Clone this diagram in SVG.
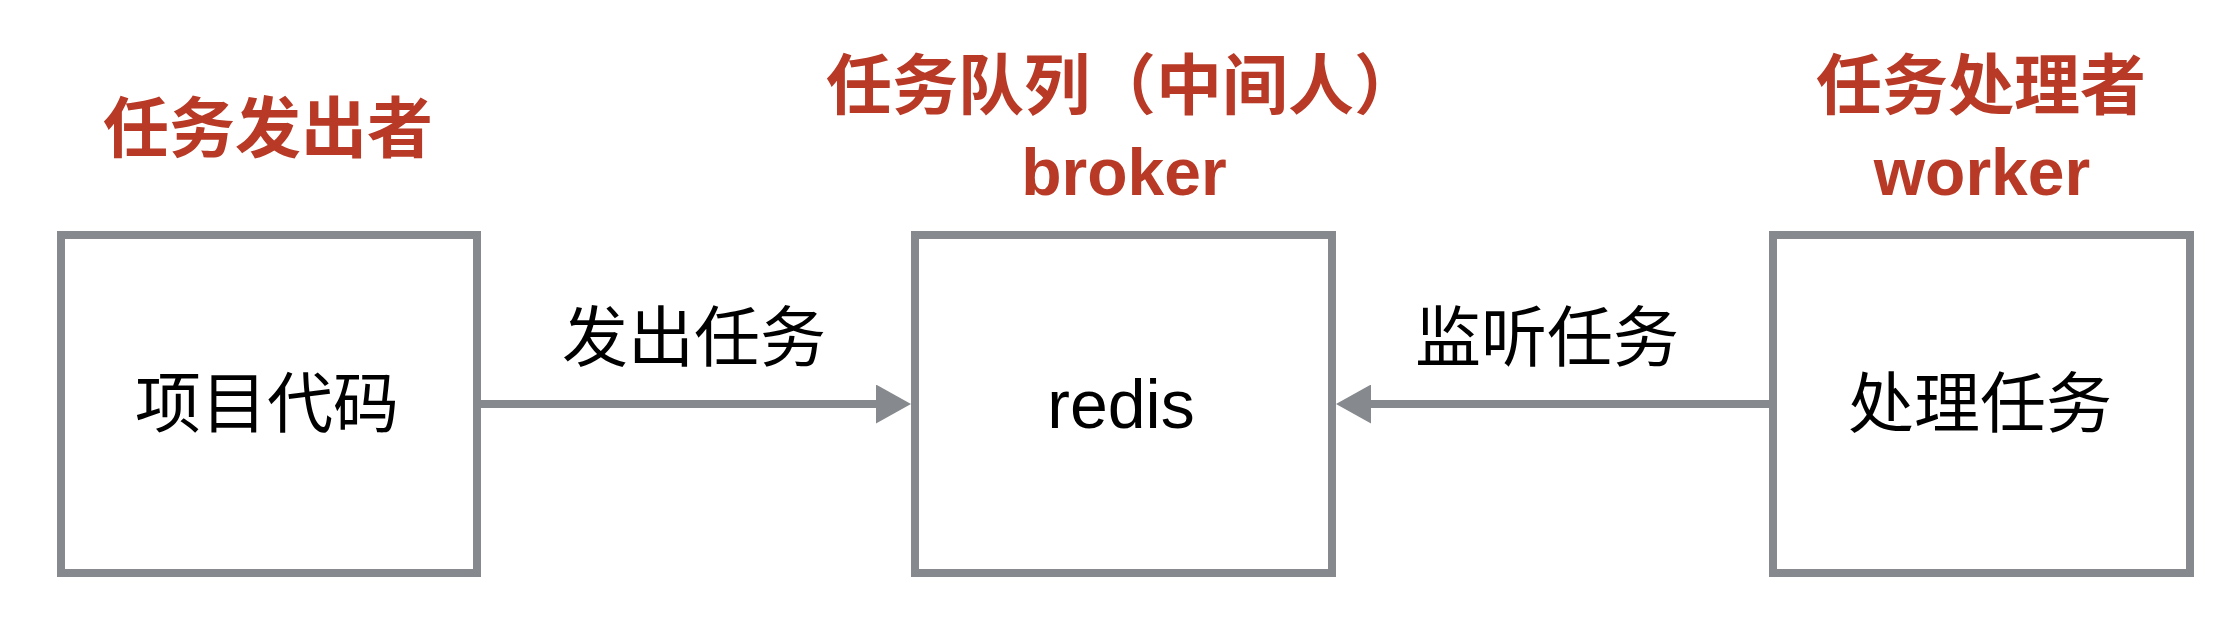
<svg xmlns="http://www.w3.org/2000/svg" width="2224" height="626" viewBox="0 0 2224 626">
  <defs>
    <style>
      .box { fill: #ffffff; stroke: #86898d; stroke-width: 8; }
      .edge { stroke: #86898d; stroke-width: 8; fill: none; }
      .title { font-family: "Noto Sans CJK SC", "Liberation Sans", sans-serif; font-weight: bold; font-size: 66px; fill: #b83a26; text-anchor: middle; }
      .latin { font-family: "Liberation Sans", "Noto Sans CJK SC", sans-serif; font-weight: bold; font-size: 66px; fill: #b83a26; text-anchor: middle; }
      .label { font-family: "Noto Sans CJK SC", "Liberation Sans", sans-serif; font-size: 66px; fill: #000000; text-anchor: middle; }
      .redis { font-family: "Liberation Sans", "Noto Sans CJK SC", sans-serif; font-size: 68px; fill: #000000; text-anchor: middle; }
    </style>
    <marker id="arrow" markerUnits="userSpaceOnUse" markerWidth="35" markerHeight="39" refX="4" refY="19.5" orient="auto">
      <path d="M0,0 L35,19.5 L0,39 Z" fill="#86898d"/>
    </marker>
  </defs>
  <rect width="2224" height="626" fill="#ffffff"/>

  <g id="producer">
    <text class="title" x="268" y="152">任务发出者</text>
    <rect class="box" x="61" y="235" width="416" height="338"/>
    <text class="label" x="267" y="427">项目代码</text>
  </g>

  <g id="broker">
    <text class="title" x="1123" y="109">任务队列（中间人）</text>
    <text class="latin" x="1124" y="195">broker</text>
    <rect class="box" x="915" y="235" width="417" height="338"/>
    <text class="redis" x="1121" y="428">redis</text>
  </g>

  <g id="worker">
    <text class="title" x="1981" y="109">任务处理者</text>
    <text class="latin" x="1982" y="195">worker</text>
    <rect class="box" x="1773" y="235" width="417" height="338"/>
    <text class="label" x="1980" y="427">处理任务</text>
  </g>

  <g id="connectors">
    <line class="edge" x1="481" y1="404" x2="880" y2="404" marker-end="url(#arrow)"/>
    <text class="label" x="694" y="361">发出任务</text>
    <line class="edge" x1="1769" y1="404" x2="1367" y2="404" marker-end="url(#arrow)"/>
    <text class="label" x="1547" y="361">监听任务</text>
  </g>
</svg>
